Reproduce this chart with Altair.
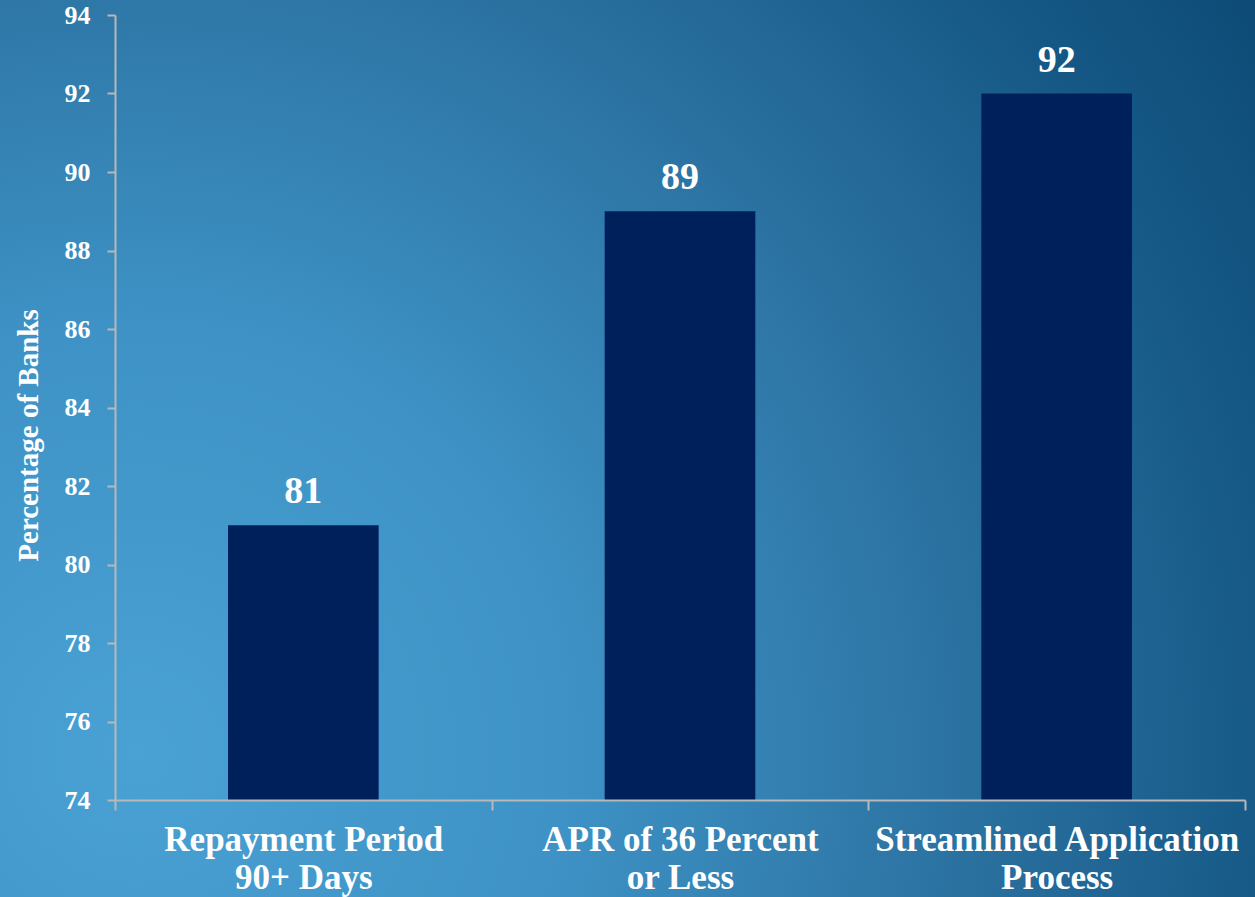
import altair as alt
import pandas as pd

categories = ["Repayment Period|90+ Days", "APR of 36 Percent|or Less", "Streamlined Application|Process"]
values = [81, 89, 92]
y_ticks = [74, 76, 78, 80, 82, 84, 86, 88, 90, 92, 94]

df = pd.DataFrame({"category": categories, "value": values})

FONT = "Liberation Serif"
AXIS_GREY = "#b8b8b8"
BAR = "#00205c"

grad = alt.Gradient(
    gradient="radial",
    x1=0.211, y1=0.571, r1=0.0,
    x2=0.211, y2=0.571, r2=0.859,
    stops=[
        alt.GradientStop(color="#4aa1d3", offset=0.0),
        alt.GradientStop(color="#3e92c5", offset=0.3),
        alt.GradientStop(color="#296f9e", offset=0.6),
        alt.GradientStop(color="#155886", offset=0.8),
        alt.GradientStop(color="#0b4670", offset=1.0),
    ],
)

bg = alt.Chart(pd.DataFrame({"a": [0]})).mark_rect(color=grad).encode(
    x=alt.value(-135), x2=alt.value(1145), y=alt.value(-215), y2=alt.value(1450)
)

x_enc = alt.X(
    "category:N",
    sort=None,
    title=None,
    scale=alt.Scale(paddingInner=0, paddingOuter=0),
    axis=alt.Axis(
        labelExpr="split(datum.label, '|')",
        labelAngle=0,
        labelFont=FONT,
        labelFontSize=35,
        labelFontWeight="bold",
        labelColor="white",
        labelLineHeight=38,
        labelBaseline="top",
        labelPadding=12,
        labelLimit=0,
        tickBand="extent",
        tickSize=10,
        tickWidth=2,
        tickColor=AXIS_GREY,
        domainColor=AXIS_GREY,
        domainWidth=2,
        zindex=1,
    ),
)

y_enc = alt.Y(
    "value:Q",
    scale=alt.Scale(domain=[74, 94], nice=False, zero=False),
    axis=alt.Axis(
        values=y_ticks,
        title="Percentage of Banks",
        titleFont=FONT,
        titleFontSize=29,
        titleFontWeight="bold",
        titleColor="white",
        titleAngle=-90,
        titleX=-87,
        titleY=420,
        titleAlign="center",
        titleBaseline="middle",
        labelFont=FONT,
        labelFontSize=26,
        labelFontWeight="bold",
        labelColor="white",
        labelPadding=17,
        labelBaseline="middle",
        tickSize=8,
        tickWidth=2,
        tickColor=AXIS_GREY,
        domainColor=AXIS_GREY,
        domainWidth=2,
        grid=False,
        zindex=1,
    ),
)

bars = alt.Chart(df).mark_bar(color=BAR, width=alt.RelativeBandSize(0.4)).encode(
    x=x_enc, y=y_enc, y2=alt.datum(74)
)

texts = alt.Chart(df).mark_text(
    font=FONT, fontSize=38, fontWeight="bold", color="white",
    baseline="alphabetic", dy=-22, align="center",
).encode(
    x=alt.X("category:N", sort=None),
    y=alt.Y("value:Q"),
    text=alt.Text("value:Q"),
)

chart = alt.layer(bg, bars, texts).properties(
    width=1130,
    height=785,
    autosize=alt.AutoSizeParams(type="none"),
    padding={"left": 115, "top": 15, "right": 10, "bottom": 97},
    background="#2c76a5",
).configure_view(stroke=None)

chart.save("out.html", embed_options={"renderer": "svg", "actions": False})
